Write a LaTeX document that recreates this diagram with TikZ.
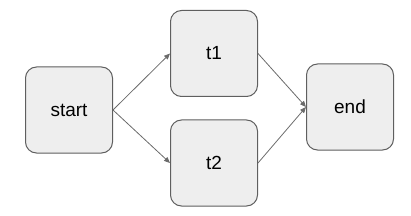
\documentclass[tikz,border=0pt]{standalone}
\usepackage{fontspec}
\setmainfont{Liberation Sans}
\usetikzlibrary{arrows.meta}
\definecolor{boxfill}{HTML}{EEEEEE}
\definecolor{boxline}{HTML}{5F5F5F}
\definecolor{arrowc}{HTML}{6A6A6A}
\begin{document}
\begin{tikzpicture}[x=1pt,y=-1pt,
  task/.style={draw=boxline,fill=boxfill,line width=1pt,rounded corners=11pt,
    minimum width=87pt,minimum height=86pt,inner sep=0pt,
    font=\fontsize{19}{22}\selectfont},
  link/.style={draw=arrowc,line width=0.8pt,-{Triangle[length=6pt,width=5pt]}}]
\useasboundingbox (0,0) rectangle (411,216);
\node[task] (start) at (69,110) {start};
\node[task] (t1) at (214,53.5) {t1};
\node[task] (t2) at (214,163) {t2};
\node[task] (end) at (350,107) {end};
\draw[link] (start.east) -- (t1.west);
\draw[link] (start.east) -- (t2.west);
\draw[link] (t1.east) -- (end.west);
\draw[link] (t2.east) -- (end.west);
\end{tikzpicture}
\end{document}
